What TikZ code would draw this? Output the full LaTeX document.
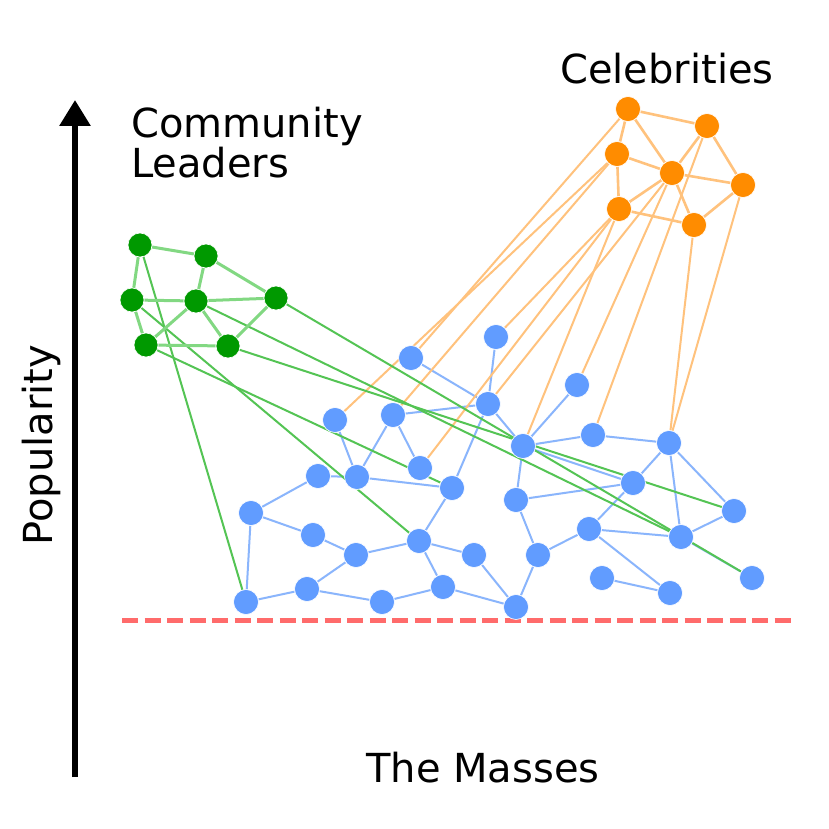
\documentclass[tikz,border=0pt]{standalone}
\usepackage{fontspec}
\setmainfont{DejaVu Sans}
\usetikzlibrary{arrows.meta}
\definecolor{bluenode}{RGB}{97,156,255}
\definecolor{blueedge}{RGB}{138,181,252}
\definecolor{greennode}{RGB}{0,153,0}
\definecolor{greenedge}{RGB}{130,216,130}
\definecolor{greenlong}{RGB}{84,196,84}
\definecolor{orangenode}{RGB}{255,140,0}
\definecolor{orangeedge}{RGB}{255,194,125}
\definecolor{reddash}{RGB}{255,107,107}
\pgfdeclarelayer{bglayer}
\pgfdeclarelayer{edgelayer}
\pgfsetlayers{bglayer,edgelayer,main}
\begin{document}
\begin{tikzpicture}[x=1pt,y=-1pt,
  bnode/.style={circle, fill=bluenode, draw=white, line width=0.6pt, minimum size=25pt, inner sep=0pt},
  gnode/.style={circle, fill=greennode, draw=white, line width=0.6pt, minimum size=24pt, inner sep=0pt},
  cnode/.style={circle, fill=orangenode, draw=white, line width=0.6pt, minimum size=25pt, inner sep=0pt},
  bedge/.style={draw=blueedge, line width=2pt},
  gedge/.style={draw=greenedge, line width=3pt},
  glong/.style={draw=greenlong, line width=2pt},
  cedge/.style={draw=orangeedge, line width=2.6pt},
  clong/.style={draw=orangeedge, line width=2pt},
  lbl/.style={font=\fontsize{40}{38}\selectfont, inner sep=0pt}
]
\begin{pgfonlayer}{bglayer}
\fill[white] (0,0) rectangle (829,829);
\end{pgfonlayer}
\useasboundingbox (0,0) rectangle (829,829);

% axis and baseline
\coordinate (axisbot) at (75,777);
\coordinate (axistop) at (75,100);
\draw[line width=6pt, -{Triangle[width=30pt,length=26pt]}] (axisbot) -- (axistop);
\coordinate (dashL) at (122,620);
\coordinate (dashR) at (791,620);
\draw[reddash, line width=5pt, dash pattern=on 16pt off 6.5pt] (dashL) -- (dashR);

% labels
\node[lbl, anchor=base] (celeb) at (667,84) {Celebrities};
\node[lbl, anchor=north west, align=left] (leaders) at (131,107) {Community\\Leaders};
\node[lbl, anchor=base] (masses) at (483,782) {The Masses};
\node[lbl, anchor=base, rotate=90] (pop) at (52,445) {Popularity};

% green nodes
\node[gnode] (g1) at (140,245) {};
\node[gnode] (g2) at (206,256) {};
\node[gnode] (g3) at (132,300) {};
\node[gnode] (g4) at (196,301) {};
\node[gnode] (g5) at (276,298) {};
\node[gnode] (g6) at (146,345) {};
\node[gnode] (g7) at (228,346) {};

% orange nodes
\node[cnode] (c1) at (628,109) {};
\node[cnode] (c2) at (707,126) {};
\node[cnode] (c3) at (617,154) {};
\node[cnode] (c4) at (672,173) {};
\node[cnode] (c5) at (743,185) {};
\node[cnode] (c6) at (619,209) {};
\node[cnode] (c7) at (694,225) {};

% blue nodes
\node[bnode] (b1) at (411,358) {};
\node[bnode] (b2) at (496,337) {};
\node[bnode] (b3) at (577,385) {};
\node[bnode] (b4) at (335,420) {};
\node[bnode] (b5) at (393,415) {};
\node[bnode] (b6) at (488,404) {};
\node[bnode] (b7) at (523,446) {};
\node[bnode] (b8) at (593,435) {};
\node[bnode] (b9) at (669,443) {};
\node[bnode] (b10) at (420,468) {};
\node[bnode] (b11) at (318,476) {};
\node[bnode] (b12) at (357,477) {};
\node[bnode] (b13) at (452,488) {};
\node[bnode] (b14) at (516,500) {};
\node[bnode] (b15) at (633,483) {};
\node[bnode] (b16) at (251,513) {};
\node[bnode] (b17) at (734,511) {};
\node[bnode] (b18) at (313,535) {};
\node[bnode] (b19) at (419,541) {};
\node[bnode] (b20) at (356,555) {};
\node[bnode] (b21) at (474,555) {};
\node[bnode] (b22) at (538,555) {};
\node[bnode] (b23) at (589,529) {};
\node[bnode] (b24) at (681,537) {};
\node[bnode] (b25) at (246,602) {};
\node[bnode] (b26) at (307,589) {};
\node[bnode] (b27) at (382,602) {};
\node[bnode] (b28) at (443,587) {};
\node[bnode] (b29) at (516,607) {};
\node[bnode] (b30) at (602,578) {};
\node[bnode] (b31) at (670,593) {};
\node[bnode] (b32) at (752,578) {};

\begin{pgfonlayer}{edgelayer}
% blue edges
\foreach \u/\v in {b1/b6, b2/b6, b5/b6, b6/b7, b6/b13, b4/b12, b5/b12, b5/b10,
  b11/b12, b12/b13, b11/b16, b16/b18, b16/b25, b18/b20, b20/b19, b19/b13,
  b19/b21, b19/b28, b20/b26, b26/b25, b26/b27, b27/b28, b28/b29, b21/b29,
  b3/b7, b7/b8, b8/b9, b7/b15, b7/b14, b14/b15, b9/b15, b9/b24, b9/b17,
  b15/b23, b23/b24, b24/b17, b14/b22, b22/b23, b22/b29, b23/b31, b30/b31, b24/b32}
  \draw[bedge] (\u) -- (\v);
% orange long edges
\foreach \u/\v in {c1/b1, c3/b4, c3/b5, c6/b2, c6/b10, c6/b7, c4/b6, c4/b3, c2/b8, c7/b9, c5/b9}
  \draw[clong] (\u) -- (\v);
% green long edges
\foreach \u/\v in {g1/b25, g3/b19, g4/b24, g5/b32, g6/b13, g7/b17}
  \draw[glong] (\u) -- (\v);
% orange cluster edges
\foreach \u/\v in {c1/c2, c1/c3, c1/c4, c2/c4, c2/c5, c3/c4, c3/c6, c4/c5, c4/c6, c4/c7, c6/c7, c7/c5}
  \draw[cedge] (\u) -- (\v);
% green cluster edges
\foreach \u/\v in {g1/g2, g1/g3, g2/g4, g2/g5, g3/g4, g4/g5, g3/g6, g4/g6, g4/g7, g6/g7, g5/g7}
  \draw[gedge] (\u) -- (\v);
\end{pgfonlayer}
\end{tikzpicture}
\end{document}
